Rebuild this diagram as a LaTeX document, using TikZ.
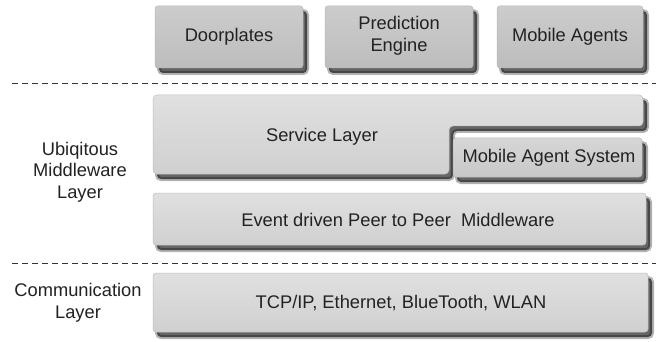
\documentclass[tikz,border=0pt]{standalone}
\usepackage{fontspec}
\setmainfont{Liberation Sans}
\definecolor{topA}{HTML}{CCCCCC}
\definecolor{topB}{HTML}{BDBDBD}
\definecolor{layA}{HTML}{E0E0E0}
\definecolor{layB}{HTML}{D0D0D0}
\definecolor{masA}{HTML}{D6D6D6}
\definecolor{masB}{HTML}{C8C8C8}
\definecolor{txt}{HTML}{222222}
\begin{document}
\begin{tikzpicture}[x=1pt,y=-1pt,
  shadowpart/.style={fill=black, fill opacity=0.6, draw=black, draw opacity=0.3, line width=4pt, rounded corners=4pt},
  tbox/.style={top color=topA, bottom color=topB, draw=black!28, line width=0.5pt, rounded corners=3pt},
  lbox/.style={top color=layA, bottom color=layB, draw=black!25, line width=0.5pt, rounded corners=3pt},
  mbox/.style={top color=masA, bottom color=masB, draw=black!28, line width=0.5pt, rounded corners=3pt},
  lbl/.style={font=\fontsize{18.3}{21.5}\selectfont, text=txt, align=center, inner sep=0pt},
  sep/.style={dash pattern=on 6pt off 4pt, line width=0.8pt, draw=black!80}]
\useasboundingbox (0,0) rectangle (656,342);
\fill[white] (0,0) rectangle (656,342);
% shadows
\foreach \a/\b/\c/\d in {155/6/303/68, 325/6/473/68, 497/6/643/68, 453/138/642/177, 153/193/646/245, 153/273/648/332}
  \path[shadowpart, shift={(4,5)}] (\a,\b) rectangle (\c,\d);
\path[shadowpart, shift={(4,5)}]
  (153,95) -- (643,95) -- (643,126) -- (449,126) -- (449,174) -- (153,174) -- cycle;
% top boxes
\path[tbox] (155,6) rectangle (303,68);
\path[tbox] (325,6) rectangle (473,68);
\path[tbox] (497,6) rectangle (643,68);
\node[lbl] (door) at (229,37) {Doorplates};
\node[lbl] (pred) at (399,36) {Prediction\\Engine};
\node[lbl] (mob) at (570,37) {Mobile Agents};
% separators
\coordinate (s1a) at (12,83); \coordinate (s1b) at (656,83);
\coordinate (s2a) at (12,263); \coordinate (s2b) at (656,263);
\draw[sep] (s1a) -- (s1b);
\draw[sep] (s2a) -- (s2b);
% service layer
\path[lbox, rounded corners=4pt]
  (153,95) -- (643,95) -- (643,126) -- (449,126) -- (449,174) -- (153,174) -- cycle;
\node[lbl] (svc) at (322,137) {Service Layer};
\path[mbox] (453,138) rectangle (642,177);
\node[lbl] (mas) at (549,158) {Mobile Agent System};
% event layer
\path[lbox] (153,193) rectangle (646,245);
\node[lbl] (evt) at (398,220) {Event driven Peer to Peer\ \ Middleware};
% communication
\path[lbox] (153,273) rectangle (648,332);
\node[lbl] (tcpl) at (401,303) {TCP/IP, Ethernet, BlueTooth, WLAN};
% left labels
\node[lbl] (ubi) at (80,172) {Ubiqitous\\Middleware\\Layer};
\node[lbl] (comm) at (78,303) {Communication\\Layer};
\end{tikzpicture}
\end{document}
